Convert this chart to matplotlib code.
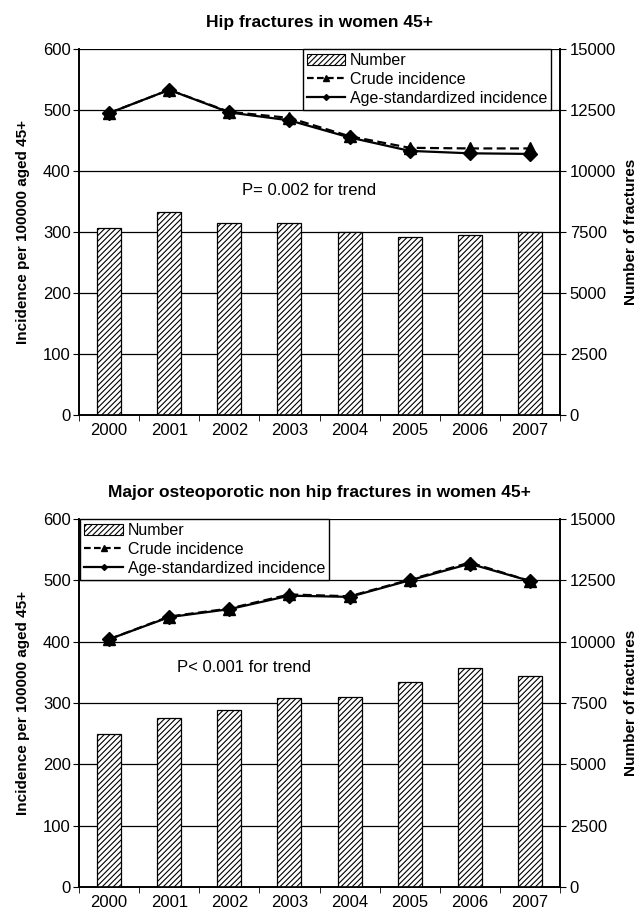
import numpy as np
import matplotlib
matplotlib.use("Agg")
import matplotlib.pyplot as plt
from matplotlib.lines import Line2D
from matplotlib.patches import Patch

plt.rcParams['font.family'] = ['Liberation Sans', 'DejaVu Sans']
plt.rcParams['hatch.linewidth'] = 0.8

years = ["2000", "2001", "2002", "2003", "2004", "2005", "2006", "2007"]

# hip fractures
hip_number = [7650, 8330, 7870, 7870, 7500, 7280, 7360, 7510]
hip_crude = [495, 533, 497, 487, 457, 438, 437, 437]
hip_age = [495, 533, 496, 483, 455, 433, 429, 428]

# major osteoporotic non hip fractures
maj_number = [6240, 6900, 7210, 7710, 7760, 8360, 8930, 8620]
maj_crude = [404, 441, 454, 477, 474, 501, 529, 499]
maj_age = [404, 440, 453, 475, 473, 500, 527, 499]

titles = ["Hip fractures in women 45+",
          "Major osteoporotic non hip fractures in women 45+"]
ptext = ["P= 0.002 for trend", "P< 0.001 for trend"]

fig = plt.figure(figsize=(6.44, 9.19), dpi=100)
W, H = 644, 919
# axes boxes in pixels: left, top, right, bottom
boxes = [(79, 49, 560, 415), (79, 519, 560, 887)]
legend_pos = [(0.465, 1.0), (0.003, 1.0)]
ptext_pos = [(3.32, 368), (2.24, 358)]

data = [(hip_number, hip_crude, hip_age), (maj_number, maj_crude, maj_age)]
x = np.arange(len(years))
fs = 12

for k in range(2):
    l, t, r, b = boxes[k]
    ax = fig.add_axes([l / W, 1 - b / H, (r - l) / W, (b - t) / H])
    ax2 = ax.twinx()
    number, crude, age = data[k]

    ax2.bar(x, number, width=0.4, color="white", edgecolor="black",
            hatch="//////", linewidth=0.9, zorder=2)
    ax2.set_ylim(0, 15000)
    ax2.set_yticks([0, 2500, 5000, 7500, 10000, 12500, 15000])

    for v in range(100, 601, 100):
        ax2.axhline(v * 25, color="black", linewidth=0.9, zorder=1)

    ax2.plot(x, np.array(crude) * 25, linestyle=(0, (4, 2)),
             color="black", linewidth=1.6, marker="^", markersize=9, zorder=3)
    ax2.plot(x, np.array(age) * 25, linestyle="-", color="black",
             linewidth=1.6, marker="D", markersize=7, zorder=4)

    ax.set_ylim(0, 600)
    ax.set_yticks([0, 100, 200, 300, 400, 500, 600])
    ax.set_xlim(-0.5, len(years) - 0.5)
    ax.set_xticks(x)
    ax.set_xticklabels(years)
    ax.set_xticks(np.arange(-0.5, len(years)), minor=True)
    ax.tick_params(axis="x", which="major", length=0, pad=6, labelsize=fs)
    ax.tick_params(axis="x", which="minor", length=4, direction="out")
    ax.tick_params(axis="y", length=4, direction="out", labelsize=fs, pad=2)
    ax2.tick_params(axis="y", length=4, direction="out", labelsize=fs, pad=3)

    for a in (ax, ax2):
        a.spines["top"].set_visible(False)
        for s in ("left", "right", "bottom"):
            a.spines[s].set_linewidth(1.2)

    ax.set_ylabel("Incidence per 100000 aged 45+", fontweight="bold",
                  fontsize=11, labelpad=9)
    ax2.set_ylabel("Number of fractures", fontweight="bold",
                   fontsize=11, labelpad=6)
    ax.set_title(titles[k], fontweight="bold", fontsize=12.5, pad=16)

    ax2.text(ptext_pos[k][0], ptext_pos[k][1] * 25, ptext[k],
             ha="center", va="center", fontsize=fs)

    handles = [
        Patch(facecolor="white", edgecolor="black", hatch="//////", linewidth=0.8),
        Line2D([], [], color="black", linestyle=(0, (3, 1.5)), linewidth=1.6,
               marker="^", markersize=4),
        Line2D([], [], color="black", linestyle="-", linewidth=1.6,
               marker="D", markersize=3),
    ]
    leg = ax2.legend(handles, ["Number", "Crude incidence", "Age-standardized incidence"],
                     loc="upper left", bbox_to_anchor=legend_pos[k], fontsize=11.5,
                     frameon=True, fancybox=False, framealpha=1, edgecolor="black",
                     borderpad=0.25, labelspacing=0.25, handlelength=2.4,
                     handletextpad=0.3, borderaxespad=0)
    leg.get_frame().set_linewidth(1.0)
    leg.set_zorder(10)

fig.savefig("out.png", dpi=100)
